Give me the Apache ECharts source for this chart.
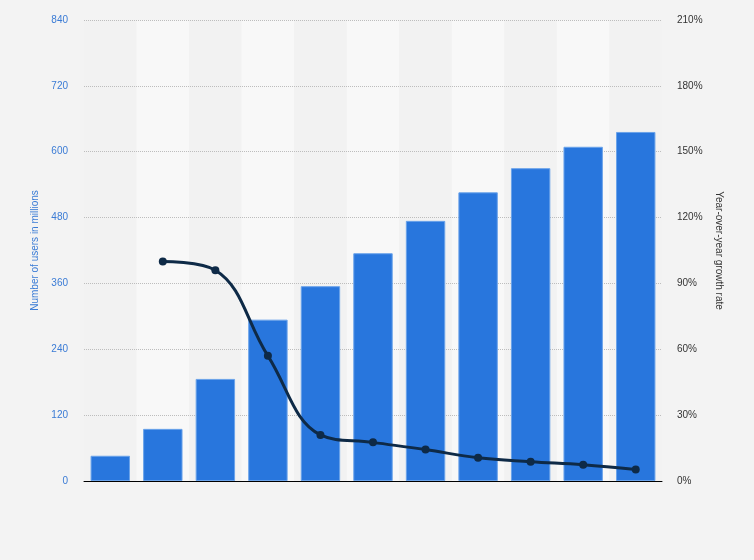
<!DOCTYPE html>
<html><head><meta charset="utf-8">
<script src="https://cdn.jsdelivr.net/npm/echarts@6/dist/echarts.min.js"></script>
<style>html,body{margin:0;padding:0;background:#f3f3f3}#c{width:754px;height:560px}</style>
</head><body><div id="c"></div>
<script>
const categories = ['1','2','3','4','5','6','7','8','9','10','11'];
const users = [46, 95, 186, 294, 355, 415, 474, 526, 570, 609, 636];
const growth = [null, 100, 96, 57, 21, 17.6, 14.3, 10.6, 8.8, 7.4, 5.2];
const leftTicks = {min: 0, max: 840, interval: 120};
const rightTicks = {min: 0, max: 210, interval: 30};

const chart = echarts.init(document.getElementById('c'));
chart.setOption({
  backgroundColor: '#f3f3f3',
  animation: false,
  grid: {left: 84, right: 92, top: 20, bottom: 79},
  xAxis: {
    type: 'category', data: categories, z: 0,
    axisLine: {lineStyle: {color: '#000', width: 1}},
    axisTick: {show: false}, axisLabel: {show: false},
    splitArea: {show: true, areaStyle: {color: ['#f2f2f2', '#f8f8f8']}}
  },
  yAxis: [{
    type: 'value', position: 'left', z: 1, min: leftTicks.min, max: leftTicks.max, interval: leftTicks.interval,
    name: 'Number of users in millions', nameLocation: 'middle', nameGap: 40,
    nameTextStyle: {color: '#3a7bd5', fontSize: 10, fontFamily: 'Arial, Liberation Sans'},
    axisLabel: {color: '#3a7bd5', fontSize: 10, fontFamily: 'Arial, Liberation Sans', margin: 16},
    axisLine: {show: false}, axisTick: {show: false},
    splitLine: {showMinLine: false, lineStyle: {color: '#bdbdbd', type: [1, 1], width: 1}}
  }, {
    type: 'value', position: 'right', z: 1, min: rightTicks.min, max: rightTicks.max, interval: rightTicks.interval,
    name: 'Year-over-year growth rate', nameLocation: 'middle', nameGap: 47, nameRotate: -90,
    nameTextStyle: {color: '#333', fontSize: 10, fontFamily: 'Arial, Liberation Sans'},
    axisLabel: {color: '#333', fontSize: 10, fontFamily: 'Arial, Liberation Sans', margin: 15, formatter: '{value}%'},
    axisLine: {show: false}, axisTick: {show: false},
    splitLine: {show: false}
  }],
  series: [{
    type: 'bar', data: users, barWidth: '75%', yAxisIndex: 0, z: 2,
    itemStyle: {color: '#2876dd', borderColor: '#6aa3ea', borderWidth: 1}
  }, {
    type: 'line', data: growth, yAxisIndex: 1, smooth: 0.4, z: 3,
    symbol: 'circle', symbolSize: 8,
    lineStyle: {color: '#0e2a47', width: 3},
    itemStyle: {color: '#0e2a47'}
  }]
});
</script></body></html>
